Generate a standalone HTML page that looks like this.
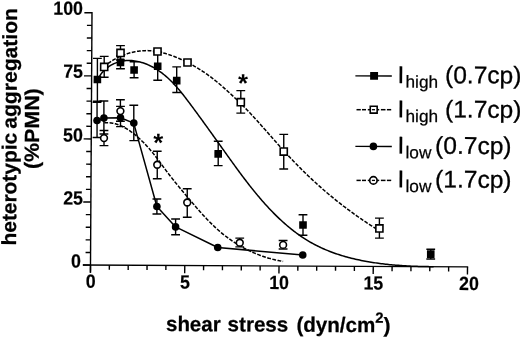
<!DOCTYPE html>
<html><head><meta charset="utf-8"><title>figure</title>
<style>html,body{margin:0;padding:0;background:#fff}svg{display:block}</style></head>
<body><svg width="520" height="338" viewBox="0 0 520 338">
<rect width="520" height="338" fill="#fff"/>
<line x1="90.45" y1="272.70" x2="92.00" y2="12.10" stroke="#000" stroke-width="1.4" />
<line x1="82.90" y1="265.06" x2="468.20" y2="266.90" stroke="#000" stroke-width="1.4" />
<line x1="90.50" y1="265.10" x2="90.45" y2="272.70" stroke="#000" stroke-width="1.4" />
<line x1="109.35" y1="265.19" x2="109.32" y2="269.79" stroke="#000" stroke-width="1.4" />
<line x1="128.20" y1="265.28" x2="128.17" y2="269.88" stroke="#000" stroke-width="1.4" />
<line x1="147.05" y1="265.37" x2="147.02" y2="269.97" stroke="#000" stroke-width="1.4" />
<line x1="165.90" y1="265.46" x2="165.87" y2="270.06" stroke="#000" stroke-width="1.4" />
<line x1="184.75" y1="265.55" x2="184.70" y2="273.15" stroke="#000" stroke-width="1.4" />
<line x1="203.60" y1="265.64" x2="203.57" y2="270.24" stroke="#000" stroke-width="1.4" />
<line x1="222.45" y1="265.73" x2="222.42" y2="270.33" stroke="#000" stroke-width="1.4" />
<line x1="241.30" y1="265.82" x2="241.27" y2="270.42" stroke="#000" stroke-width="1.4" />
<line x1="260.15" y1="265.91" x2="260.12" y2="270.51" stroke="#000" stroke-width="1.4" />
<line x1="279.00" y1="266.00" x2="278.95" y2="273.60" stroke="#000" stroke-width="1.4" />
<line x1="297.85" y1="266.09" x2="297.82" y2="270.69" stroke="#000" stroke-width="1.4" />
<line x1="316.70" y1="266.18" x2="316.67" y2="270.78" stroke="#000" stroke-width="1.4" />
<line x1="335.55" y1="266.27" x2="335.52" y2="270.87" stroke="#000" stroke-width="1.4" />
<line x1="354.40" y1="266.36" x2="354.37" y2="270.96" stroke="#000" stroke-width="1.4" />
<line x1="373.25" y1="266.45" x2="373.20" y2="274.05" stroke="#000" stroke-width="1.4" />
<line x1="392.10" y1="266.54" x2="392.07" y2="271.14" stroke="#000" stroke-width="1.4" />
<line x1="410.95" y1="266.63" x2="410.92" y2="271.23" stroke="#000" stroke-width="1.4" />
<line x1="429.80" y1="266.72" x2="429.77" y2="271.32" stroke="#000" stroke-width="1.4" />
<line x1="448.65" y1="266.81" x2="448.62" y2="271.41" stroke="#000" stroke-width="1.4" />
<line x1="467.50" y1="266.90" x2="467.45" y2="274.50" stroke="#000" stroke-width="1.4" />
<line x1="90.50" y1="265.10" x2="82.90" y2="265.06" stroke="#000" stroke-width="1.4" />
<line x1="90.58" y1="252.49" x2="85.58" y2="252.46" stroke="#000" stroke-width="1.4" />
<line x1="90.65" y1="239.87" x2="85.65" y2="239.85" stroke="#000" stroke-width="1.4" />
<line x1="90.72" y1="227.26" x2="85.73" y2="227.23" stroke="#000" stroke-width="1.4" />
<line x1="90.80" y1="214.64" x2="85.80" y2="214.62" stroke="#000" stroke-width="1.4" />
<line x1="90.88" y1="202.03" x2="83.28" y2="201.99" stroke="#000" stroke-width="1.4" />
<line x1="90.95" y1="189.41" x2="85.95" y2="189.39" stroke="#000" stroke-width="1.4" />
<line x1="91.03" y1="176.80" x2="86.03" y2="176.77" stroke="#000" stroke-width="1.4" />
<line x1="91.10" y1="164.18" x2="86.10" y2="164.16" stroke="#000" stroke-width="1.4" />
<line x1="91.17" y1="151.56" x2="86.18" y2="151.54" stroke="#000" stroke-width="1.4" />
<line x1="91.25" y1="138.95" x2="83.65" y2="138.91" stroke="#000" stroke-width="1.4" />
<line x1="91.33" y1="126.34" x2="86.33" y2="126.31" stroke="#000" stroke-width="1.4" />
<line x1="91.40" y1="113.72" x2="86.40" y2="113.70" stroke="#000" stroke-width="1.4" />
<line x1="91.47" y1="101.11" x2="86.48" y2="101.08" stroke="#000" stroke-width="1.4" />
<line x1="91.55" y1="88.49" x2="86.55" y2="88.47" stroke="#000" stroke-width="1.4" />
<line x1="91.62" y1="75.88" x2="84.03" y2="75.84" stroke="#000" stroke-width="1.4" />
<line x1="91.70" y1="63.26" x2="86.70" y2="63.24" stroke="#000" stroke-width="1.4" />
<line x1="91.78" y1="50.65" x2="86.78" y2="50.62" stroke="#000" stroke-width="1.4" />
<line x1="91.85" y1="38.03" x2="86.85" y2="38.01" stroke="#000" stroke-width="1.4" />
<line x1="91.92" y1="25.42" x2="86.93" y2="25.39" stroke="#000" stroke-width="1.4" />
<line x1="92.00" y1="12.80" x2="84.40" y2="12.76" stroke="#000" stroke-width="1.4" />
<line x1="97.40" y1="58.40" x2="97.40" y2="101.20" stroke="#000" stroke-width="1.4" />
<line x1="93.00" y1="58.38" x2="101.80" y2="58.42" stroke="#000" stroke-width="1.4" />
<line x1="93.00" y1="101.18" x2="101.80" y2="101.22" stroke="#000" stroke-width="1.4" />
<line x1="120.50" y1="55.80" x2="120.50" y2="68.80" stroke="#000" stroke-width="1.4" />
<line x1="116.10" y1="55.78" x2="124.90" y2="55.82" stroke="#000" stroke-width="1.4" />
<line x1="116.10" y1="68.78" x2="124.90" y2="68.82" stroke="#000" stroke-width="1.4" />
<line x1="134.10" y1="61.80" x2="134.10" y2="77.75" stroke="#000" stroke-width="1.4" />
<line x1="129.70" y1="61.78" x2="138.50" y2="61.82" stroke="#000" stroke-width="1.4" />
<line x1="129.70" y1="77.73" x2="138.50" y2="77.77" stroke="#000" stroke-width="1.4" />
<line x1="157.70" y1="52.30" x2="157.70" y2="80.25" stroke="#000" stroke-width="1.4" />
<line x1="153.30" y1="52.28" x2="162.10" y2="52.32" stroke="#000" stroke-width="1.4" />
<line x1="153.30" y1="80.23" x2="162.10" y2="80.27" stroke="#000" stroke-width="1.4" />
<line x1="176.70" y1="66.90" x2="176.70" y2="92.50" stroke="#000" stroke-width="1.4" />
<line x1="172.30" y1="66.88" x2="181.10" y2="66.92" stroke="#000" stroke-width="1.4" />
<line x1="172.30" y1="92.48" x2="181.10" y2="92.52" stroke="#000" stroke-width="1.4" />
<line x1="218.20" y1="141.25" x2="218.20" y2="165.60" stroke="#000" stroke-width="1.4" />
<line x1="213.80" y1="141.23" x2="222.60" y2="141.27" stroke="#000" stroke-width="1.4" />
<line x1="213.80" y1="165.58" x2="222.60" y2="165.62" stroke="#000" stroke-width="1.4" />
<line x1="303.00" y1="214.75" x2="303.00" y2="235.30" stroke="#000" stroke-width="1.4" />
<line x1="298.60" y1="214.73" x2="307.40" y2="214.77" stroke="#000" stroke-width="1.4" />
<line x1="298.60" y1="235.28" x2="307.40" y2="235.32" stroke="#000" stroke-width="1.4" />
<line x1="430.75" y1="249.20" x2="430.75" y2="259.00" stroke="#000" stroke-width="1.4" />
<line x1="426.35" y1="249.18" x2="435.15" y2="249.22" stroke="#000" stroke-width="1.4" />
<line x1="426.35" y1="258.98" x2="435.15" y2="259.02" stroke="#000" stroke-width="1.4" />
<line x1="104.20" y1="56.40" x2="104.20" y2="77.25" stroke="#000" stroke-width="1.4" />
<line x1="99.80" y1="56.38" x2="108.60" y2="56.42" stroke="#000" stroke-width="1.4" />
<line x1="99.80" y1="77.23" x2="108.60" y2="77.27" stroke="#000" stroke-width="1.4" />
<line x1="120.50" y1="45.60" x2="120.50" y2="60.00" stroke="#000" stroke-width="1.4" />
<line x1="116.10" y1="45.58" x2="124.90" y2="45.62" stroke="#000" stroke-width="1.4" />
<line x1="116.10" y1="59.98" x2="124.90" y2="60.02" stroke="#000" stroke-width="1.4" />
<line x1="240.80" y1="90.60" x2="240.80" y2="113.10" stroke="#000" stroke-width="1.4" />
<line x1="236.40" y1="90.58" x2="245.20" y2="90.62" stroke="#000" stroke-width="1.4" />
<line x1="236.40" y1="113.08" x2="245.20" y2="113.12" stroke="#000" stroke-width="1.4" />
<line x1="283.75" y1="134.40" x2="283.75" y2="169.00" stroke="#000" stroke-width="1.4" />
<line x1="279.35" y1="134.38" x2="288.15" y2="134.42" stroke="#000" stroke-width="1.4" />
<line x1="279.35" y1="168.98" x2="288.15" y2="169.02" stroke="#000" stroke-width="1.4" />
<line x1="379.40" y1="218.10" x2="379.40" y2="238.10" stroke="#000" stroke-width="1.4" />
<line x1="375.00" y1="218.08" x2="383.80" y2="218.12" stroke="#000" stroke-width="1.4" />
<line x1="375.00" y1="238.08" x2="383.80" y2="238.12" stroke="#000" stroke-width="1.4" />
<line x1="97.05" y1="102.30" x2="97.05" y2="137.50" stroke="#000" stroke-width="1.4" />
<line x1="92.65" y1="102.28" x2="101.45" y2="102.32" stroke="#000" stroke-width="1.4" />
<line x1="92.65" y1="137.48" x2="101.45" y2="137.52" stroke="#000" stroke-width="1.4" />
<line x1="103.90" y1="101.00" x2="103.90" y2="134.00" stroke="#000" stroke-width="1.4" />
<line x1="99.50" y1="100.98" x2="108.30" y2="101.02" stroke="#000" stroke-width="1.4" />
<line x1="99.50" y1="133.98" x2="108.30" y2="134.02" stroke="#000" stroke-width="1.4" />
<line x1="120.50" y1="106.40" x2="120.50" y2="126.60" stroke="#000" stroke-width="1.4" />
<line x1="116.10" y1="106.38" x2="124.90" y2="106.42" stroke="#000" stroke-width="1.4" />
<line x1="116.10" y1="126.58" x2="124.90" y2="126.62" stroke="#000" stroke-width="1.4" />
<line x1="133.80" y1="105.20" x2="133.80" y2="140.60" stroke="#000" stroke-width="1.4" />
<line x1="129.40" y1="105.18" x2="138.20" y2="105.22" stroke="#000" stroke-width="1.4" />
<line x1="129.40" y1="140.58" x2="138.20" y2="140.62" stroke="#000" stroke-width="1.4" />
<line x1="156.90" y1="199.00" x2="156.90" y2="214.00" stroke="#000" stroke-width="1.4" />
<line x1="152.50" y1="198.98" x2="161.30" y2="199.02" stroke="#000" stroke-width="1.4" />
<line x1="152.50" y1="213.98" x2="161.30" y2="214.02" stroke="#000" stroke-width="1.4" />
<line x1="175.60" y1="219.00" x2="175.60" y2="234.75" stroke="#000" stroke-width="1.4" />
<line x1="171.20" y1="218.98" x2="180.00" y2="219.02" stroke="#000" stroke-width="1.4" />
<line x1="171.20" y1="234.73" x2="180.00" y2="234.77" stroke="#000" stroke-width="1.4" />
<line x1="104.00" y1="130.50" x2="104.00" y2="145.60" stroke="#000" stroke-width="1.4" />
<line x1="99.60" y1="130.48" x2="108.40" y2="130.52" stroke="#000" stroke-width="1.4" />
<line x1="99.60" y1="145.58" x2="108.40" y2="145.62" stroke="#000" stroke-width="1.4" />
<line x1="120.40" y1="99.75" x2="120.40" y2="121.30" stroke="#000" stroke-width="1.4" />
<line x1="116.00" y1="99.73" x2="124.80" y2="99.77" stroke="#000" stroke-width="1.4" />
<line x1="116.00" y1="121.28" x2="124.80" y2="121.32" stroke="#000" stroke-width="1.4" />
<line x1="157.25" y1="151.25" x2="157.25" y2="178.75" stroke="#000" stroke-width="1.4" />
<line x1="152.85" y1="151.23" x2="161.65" y2="151.27" stroke="#000" stroke-width="1.4" />
<line x1="152.85" y1="178.73" x2="161.65" y2="178.77" stroke="#000" stroke-width="1.4" />
<line x1="187.25" y1="188.75" x2="187.25" y2="217.25" stroke="#000" stroke-width="1.4" />
<line x1="182.85" y1="188.73" x2="191.65" y2="188.77" stroke="#000" stroke-width="1.4" />
<line x1="182.85" y1="217.23" x2="191.65" y2="217.27" stroke="#000" stroke-width="1.4" />
<line x1="239.75" y1="238.10" x2="239.75" y2="246.90" stroke="#000" stroke-width="1.4" />
<line x1="235.35" y1="238.08" x2="244.15" y2="238.12" stroke="#000" stroke-width="1.4" />
<line x1="235.35" y1="246.88" x2="244.15" y2="246.92" stroke="#000" stroke-width="1.4" />
<line x1="283.10" y1="240.50" x2="283.10" y2="249.00" stroke="#000" stroke-width="1.4" />
<line x1="278.70" y1="240.48" x2="287.50" y2="240.52" stroke="#000" stroke-width="1.4" />
<line x1="278.70" y1="248.98" x2="287.50" y2="249.02" stroke="#000" stroke-width="1.4" />
<path d="M97.42 79.90 L98.14 78.48 L98.91 77.12 L99.74 75.81 L100.61 74.56 L101.52 73.35 L102.48 72.21 L103.48 71.11 L104.52 70.07 L105.60 69.09 L106.72 68.15 L107.86 67.27 L109.04 66.45 L110.25 65.68 L111.49 64.96 L112.74 64.29 L114.03 63.68 L115.33 63.12 L116.65 62.62 L117.99 62.17 L119.34 61.78 L120.70 61.44 L122.07 61.15 L123.45 60.91 L124.84 60.73 L126.23 60.61 L127.62 60.53 L129.01 60.51 L130.41 60.54 L131.80 60.61 L133.20 60.74 L134.59 60.91 L135.98 61.12 L137.36 61.38 L138.75 61.68 L140.12 62.03 L141.49 62.41 L142.85 62.83 L144.21 63.29 L145.55 63.78 L146.89 64.31 L148.21 64.88 L149.53 65.47 L150.83 66.10 L152.12 66.76 L153.39 67.44 L154.65 68.16 L155.89 68.90 L157.11 69.66 L158.32 70.45 L159.51 71.27 L160.68 72.10 L161.83 72.96 L162.97 73.83 L164.09 74.73 L165.20 75.65 L166.29 76.58 L167.37 77.54 L168.43 78.51 L169.48 79.49 L170.51 80.49 L171.54 81.51 L172.55 82.54 L173.55 83.58 L174.53 84.64 L175.51 85.71 L176.48 86.79 L177.43 87.88 L178.38 88.98 L179.32 90.09 L180.25 91.20 L181.17 92.33 L182.08 93.46 L182.99 94.59 L183.89 95.74 L184.78 96.88 L185.67 98.03 L186.55 99.18 L187.42 100.34 L188.30 101.49 L189.16 102.65 L190.03 103.81 L190.89 104.96 L191.75 106.12 L192.61 107.27 L193.46 108.42 L194.31 109.58 L195.16 110.73 L196.01 111.88 L196.85 113.02 L197.69 114.17 L198.53 115.32 L199.37 116.47 L200.21 117.61 L201.04 118.76 L201.87 119.91 L202.71 121.05 L203.54 122.20 L204.36 123.34 L205.19 124.49 L206.02 125.63 L206.84 126.78 L207.67 127.92 L208.49 129.07 L209.32 130.21 L210.14 131.36 L210.96 132.50 L211.78 133.65 L212.60 134.80 L213.42 135.94 L214.25 137.09 L215.07 138.24 L215.89 139.39 L216.71 140.54 L217.53 141.69 L218.35 142.84 L219.18 143.99 L220.00 145.14 L220.82 146.30 L221.65 147.45 L222.47 148.61 L223.30 149.77 L224.13 150.93 L224.96 152.09 L225.79 153.25 L226.62 154.41 L227.45 155.58 L228.29 156.75 L229.13 157.91 L229.96 159.08 L230.80 160.25 L231.65 161.42 L232.49 162.59 L233.34 163.76 L234.18 164.93 L235.03 166.10 L235.89 167.27 L236.74 168.44 L237.60 169.61 L238.46 170.78 L239.32 171.95 L240.18 173.11 L241.05 174.28 L241.92 175.44 L242.79 176.61 L243.67 177.77 L244.55 178.93 L245.43 180.08 L246.31 181.24 L247.20 182.39 L248.09 183.54 L248.99 184.69 L249.88 185.84 L250.78 186.98 L251.69 188.12 L252.60 189.25 L253.51 190.39 L254.42 191.51 L255.34 192.64 L256.27 193.76 L257.19 194.88 L258.12 195.99 L259.06 197.10 L260.00 198.20 L260.94 199.30 L261.89 200.40 L262.84 201.49 L263.80 202.57 L264.76 203.65 L265.73 204.72 L266.70 205.79 L267.67 206.85 L268.65 207.91 L269.64 208.96 L270.63 210.00 L271.62 211.04 L272.62 212.07 L273.63 213.10 L274.64 214.11 L275.65 215.12 L276.67 216.13 L277.70 217.12 L278.73 218.11 L279.77 219.09 L280.81 220.06 L281.86 221.02 L282.91 221.98 L283.97 222.93 L285.04 223.87 L286.11 224.80 L287.19 225.72 L288.28 226.63 L289.37 227.53 L290.46 228.43 L291.57 229.31 L292.68 230.19 L293.79 231.05 L294.92 231.91 L296.05 232.75 L297.18 233.58 L298.33 234.41 L299.48 235.22 L300.63 236.02 L301.80 236.82 L302.97 237.60 L304.15 238.37 L305.33 239.12 L306.53 239.87 L307.73 240.60 L308.93 241.33 L310.15 242.04 L311.37 242.74 L312.60 243.42 L313.84 244.09 L315.09 244.76 L316.34 245.40 L317.60 246.04 L318.87 246.66 L320.15 247.27 L321.43 247.87 L322.72 248.45 L324.02 249.03 L325.32 249.59 L326.63 250.14 L327.95 250.68 L329.28 251.20 L330.60 251.72 L331.94 252.22 L333.28 252.72 L334.63 253.20 L335.98 253.67 L337.34 254.13 L338.70 254.58 L340.07 255.01 L341.44 255.44 L342.82 255.86 L344.20 256.27 L345.59 256.66 L346.98 257.05 L348.38 257.43 L349.78 257.79 L351.18 258.15 L352.59 258.50 L353.99 258.84 L355.41 259.17 L356.82 259.49 L358.24 259.80 L359.67 260.10 L361.09 260.40 L362.52 260.68 L363.95 260.96 L365.38 261.23 L366.81 261.49 L368.25 261.74 L369.68 261.99 L371.12 262.22 L372.56 262.45 L374.01 262.67 L375.45 262.88 L376.89 263.09 L378.34 263.29 L379.78 263.48 L381.23 263.66 L382.67 263.84 L384.12 264.01 L385.56 264.18 L387.01 264.33 L388.46 264.48 L389.90 264.63 L391.35 264.77 L392.79 264.90 L394.23 265.03 L395.67 265.15 L397.11 265.26 L398.55 265.37 L399.99 265.48 L401.43 265.57 L402.86 265.67 L404.29 265.76 L405.72 265.84 L407.15 265.92 L408.57 265.99 L409.99 266.06 L411.41 266.13 L412.83 266.19 L414.24 266.25 L415.65 266.30 L417.06 266.35 L418.46 266.39 L419.86 266.43 L421.25 266.47 L422.65 266.50 L424.03 266.53 L425.41 266.56 L426.79 266.59 L428.16 266.61 L429.53 266.63 L430.90 266.64 L432.25 266.65 L433.61 266.67" fill="none" stroke="#000" stroke-width="1.5" stroke-linejoin="round"/>
<path d="M103.84 66.90 L104.74 66.13 L105.65 65.38 L106.57 64.64 L107.51 63.92 L108.46 63.22 L109.42 62.54 L110.39 61.87 L111.37 61.22 L112.36 60.59 L113.36 59.98 L114.37 59.39 L115.40 58.81 L116.43 58.25 L117.47 57.71 L118.52 57.19 L119.57 56.69 L120.64 56.21 L121.71 55.75 L122.79 55.31 L123.87 54.88 L124.96 54.48 L126.06 54.09 L127.17 53.72 L128.27 53.38 L129.39 53.05 L130.51 52.75 L131.63 52.46 L132.76 52.19 L133.89 51.95 L135.02 51.72 L136.15 51.52 L137.29 51.33 L138.43 51.17 L139.58 51.03 L140.72 50.91 L141.86 50.81 L143.01 50.73 L144.15 50.67 L145.30 50.63 L146.45 50.62 L147.59 50.62 L148.73 50.65 L149.88 50.70 L151.02 50.77 L152.15 50.87 L153.29 50.98 L154.42 51.12 L155.55 51.28 L156.68 51.46 L157.80 51.66 L158.93 51.88 L160.04 52.12 L161.16 52.38 L162.27 52.65 L163.38 52.94 L164.49 53.24 L165.59 53.56 L166.69 53.89 L167.79 54.24 L168.88 54.59 L169.97 54.96 L171.06 55.34 L172.15 55.73 L173.23 56.13 L174.30 56.54 L175.38 56.96 L176.45 57.39 L177.52 57.83 L178.58 58.27 L179.64 58.73 L180.70 59.19 L181.75 59.66 L182.80 60.15 L183.85 60.64 L184.89 61.14 L185.93 61.65 L186.97 62.16 L188.00 62.69 L189.03 63.23 L190.05 63.77 L191.07 64.32 L192.09 64.88 L193.10 65.45 L194.11 66.03 L195.12 66.61 L196.12 67.21 L197.12 67.81 L198.11 68.41 L199.10 69.03 L200.08 69.65 L201.07 70.28 L202.04 70.92 L203.02 71.57 L203.98 72.22 L204.95 72.88 L205.91 73.54 L206.87 74.22 L207.82 74.90 L208.76 75.58 L209.71 76.27 L210.65 76.97 L211.58 77.67 L212.51 78.38 L213.44 79.10 L214.36 79.82 L215.27 80.55 L216.19 81.28 L217.09 82.02 L218.00 82.77 L218.89 83.51 L219.79 84.27 L220.68 85.02 L221.57 85.78 L222.45 86.55 L223.33 87.31 L224.20 88.08 L225.07 88.86 L225.94 89.63 L226.80 90.41 L227.66 91.19 L228.51 91.97 L229.37 92.75 L230.21 93.53 L231.06 94.31 L231.90 95.10 L232.74 95.88 L233.58 96.66 L234.41 97.45 L235.24 98.24 L236.07 99.02 L236.89 99.81 L237.71 100.60 L238.53 101.39 L239.34 102.19 L240.16 102.99 L240.97 103.78 L241.78 104.59 L242.58 105.39 L243.39 106.20 L244.19 107.01 L244.99 107.82 L245.78 108.64 L246.58 109.46 L247.37 110.28 L248.16 111.11 L248.95 111.94 L249.74 112.77 L250.53 113.61 L251.31 114.44 L252.09 115.28 L252.88 116.13 L253.66 116.97 L254.44 117.82 L255.21 118.67 L255.99 119.52 L256.76 120.37 L257.54 121.23 L258.31 122.08 L259.09 122.94 L259.86 123.80 L260.63 124.67 L261.40 125.53 L262.17 126.39 L262.94 127.26 L263.71 128.13 L264.47 128.99 L265.24 129.86 L266.01 130.73 L266.78 131.60 L267.55 132.47 L268.31 133.35 L269.08 134.22 L269.85 135.09 L270.62 135.96 L271.38 136.83 L272.15 137.71 L272.92 138.58 L273.69 139.45 L274.46 140.32 L275.23 141.20 L276.00 142.07 L276.77 142.94 L277.55 143.81 L278.32 144.68 L279.09 145.55 L279.87 146.41 L280.65 147.28 L281.42 148.15 L282.20 149.01 L282.98 149.87 L283.77 150.74 L284.55 151.60 L285.33 152.46 L286.12 153.31 L286.91 154.17 L287.70 155.02 L288.49 155.87 L289.28 156.72 L290.08 157.57 L290.87 158.41 L291.67 159.26 L292.47 160.10 L293.28 160.94 L294.08 161.77 L294.89 162.61 L295.70 163.44 L296.51 164.27 L297.32 165.10 L298.13 165.92 L298.95 166.75 L299.76 167.57 L300.58 168.39 L301.41 169.21 L302.23 170.02 L303.05 170.84 L303.88 171.65 L304.71 172.46 L305.54 173.26 L306.37 174.07 L307.21 174.87 L308.04 175.67 L308.88 176.47 L309.72 177.26 L310.56 178.06 L311.41 178.85 L312.25 179.64 L313.10 180.43 L313.95 181.21 L314.80 181.99 L315.66 182.77 L316.51 183.55 L317.37 184.33 L318.23 185.10 L319.09 185.87 L319.95 186.64 L320.82 187.40 L321.69 188.17 L322.56 188.93 L323.43 189.69 L324.30 190.45 L325.18 191.20 L326.05 191.95 L326.93 192.70 L327.81 193.45 L328.70 194.20 L329.58 194.94 L330.47 195.68 L331.36 196.42 L332.25 197.15 L333.14 197.89 L334.03 198.62 L334.93 199.34 L335.83 200.07 L336.73 200.79 L337.63 201.52 L338.54 202.23 L339.44 202.95 L340.35 203.66 L341.26 204.37 L342.18 205.08 L343.09 205.79 L344.01 206.49 L344.93 207.19 L345.85 207.89 L346.77 208.59 L347.69 209.28 L348.62 209.97 L349.55 210.66 L350.48 211.35 L351.41 212.03 L352.35 212.71 L353.28 213.39 L354.22 214.07 L355.16 214.74 L356.11 215.41 L357.05 216.08 L358.00 216.75 L358.95 217.41 L359.90 218.07 L360.85 218.73 L361.81 219.38 L362.76 220.04 L363.72 220.69 L364.69 221.33 L365.65 221.98 L366.61 222.62 L367.58 223.26 L368.55 223.90 L369.52 224.53 L370.50 225.16 L371.47 225.79 L372.45 226.41 L373.43 227.04 L374.41 227.66 L375.40 228.28 L376.38 228.89 L377.37 229.50 L378.36 230.11 L379.35 230.72" fill="none" stroke="#000" stroke-width="1.5" stroke-linejoin="round" stroke-dasharray="3.8 1.5"/>
<path d="M104.30 122.79 L105.12 122.74 L105.94 122.71 L106.76 122.70 L107.56 122.70 L108.36 122.73 L109.16 122.78 L109.95 122.85 L110.73 122.94 L111.51 123.04 L112.28 123.17 L113.05 123.31 L113.81 123.46 L114.57 123.64 L115.32 123.83 L116.07 124.03 L116.81 124.25 L117.54 124.49 L118.27 124.74 L118.99 125.01 L119.71 125.29 L120.43 125.58 L121.14 125.89 L121.84 126.20 L122.54 126.54 L123.23 126.88 L123.92 127.23 L124.60 127.60 L125.28 127.98 L125.96 128.36 L126.62 128.76 L127.29 129.17 L127.95 129.58 L128.60 130.01 L129.25 130.44 L129.90 130.88 L130.54 131.33 L131.17 131.78 L131.81 132.25 L132.43 132.71 L133.06 133.19 L133.67 133.67 L134.29 134.16 L134.90 134.65 L135.50 135.15 L136.10 135.65 L136.70 136.16 L137.29 136.67 L137.88 137.19 L138.47 137.71 L139.05 138.24 L139.62 138.77 L140.19 139.30 L140.76 139.84 L141.33 140.38 L141.89 140.93 L142.45 141.48 L143.00 142.03 L143.55 142.58 L144.10 143.14 L144.64 143.70 L145.18 144.27 L145.72 144.84 L146.25 145.40 L146.78 145.98 L147.30 146.55 L147.83 147.13 L148.35 147.70 L148.86 148.29 L149.38 148.87 L149.89 149.46 L150.39 150.04 L150.90 150.64 L151.40 151.23 L151.90 151.83 L152.39 152.42 L152.88 153.03 L153.37 153.63 L153.86 154.24 L154.35 154.85 L154.83 155.46 L155.31 156.07 L155.78 156.69 L156.26 157.30 L156.73 157.92 L157.20 158.55 L157.67 159.17 L158.14 159.80 L158.60 160.42 L159.07 161.05 L159.53 161.68 L160.00 162.31 L160.46 162.94 L160.92 163.57 L161.38 164.20 L161.85 164.83 L162.31 165.46 L162.77 166.09 L163.23 166.72 L163.69 167.35 L164.16 167.98 L164.62 168.61 L165.09 169.24 L165.55 169.86 L166.02 170.49 L166.49 171.11 L166.96 171.74 L167.43 172.36 L167.91 172.98 L168.38 173.60 L168.86 174.22 L169.33 174.83 L169.81 175.45 L170.29 176.06 L170.77 176.68 L171.25 177.29 L171.73 177.90 L172.21 178.52 L172.70 179.13 L173.18 179.74 L173.67 180.34 L174.16 180.95 L174.64 181.56 L175.13 182.17 L175.62 182.77 L176.11 183.38 L176.60 183.98 L177.10 184.58 L177.59 185.19 L178.08 185.79 L178.58 186.39 L179.07 186.99 L179.57 187.59 L180.07 188.19 L180.56 188.79 L181.06 189.39 L181.56 189.99 L182.06 190.59 L182.56 191.19 L183.06 191.79 L183.56 192.39 L184.06 192.98 L184.56 193.58 L185.06 194.18 L185.57 194.78 L186.07 195.37 L186.57 195.97 L187.08 196.57 L187.58 197.16 L188.08 197.76 L188.59 198.36 L189.09 198.95 L189.60 199.55 L190.10 200.15 L190.61 200.74 L191.11 201.34 L191.62 201.93 L192.13 202.53 L192.64 203.13 L193.14 203.72 L193.65 204.32 L194.16 204.91 L194.67 205.51 L195.18 206.10 L195.69 206.69 L196.21 207.28 L196.72 207.87 L197.23 208.47 L197.75 209.06 L198.26 209.64 L198.78 210.23 L199.30 210.82 L199.82 211.40 L200.34 211.99 L200.86 212.57 L201.38 213.15 L201.91 213.74 L202.43 214.32 L202.96 214.89 L203.49 215.47 L204.02 216.05 L204.55 216.62 L205.08 217.19 L205.62 217.76 L206.15 218.33 L206.69 218.90 L207.23 219.46 L207.77 220.02 L208.32 220.59 L208.86 221.15 L209.41 221.70 L209.96 222.26 L210.51 222.81 L211.06 223.36 L211.62 223.91 L212.18 224.45 L212.74 225.00 L213.30 225.54 L213.86 226.08 L214.43 226.61 L215.00 227.15 L215.57 227.68 L216.14 228.20 L216.72 228.73 L217.30 229.25 L217.88 229.77 L218.47 230.29 L219.05 230.80 L219.64 231.31 L220.23 231.82 L220.83 232.32 L221.43 232.82 L222.03 233.32 L222.63 233.81 L223.24 234.31 L223.85 234.79 L224.46 235.28 L225.08 235.76 L225.70 236.23 L226.32 236.71 L226.94 237.18 L227.57 237.64 L228.20 238.11 L228.83 238.57 L229.47 239.02 L230.11 239.47 L230.75 239.92 L231.39 240.37 L232.04 240.81 L232.69 241.25 L233.34 241.68 L233.99 242.11 L234.65 242.54 L235.31 242.96 L235.97 243.38 L236.63 243.79 L237.30 244.20 L237.96 244.61 L238.64 245.01 L239.31 245.41 L239.98 245.81 L240.66 246.20 L241.34 246.59 L242.02 246.97 L242.71 247.35 L243.40 247.73 L244.08 248.10 L244.78 248.46 L245.47 248.83 L246.16 249.19 L246.86 249.54 L247.56 249.89 L248.26 250.24 L248.97 250.58 L249.67 250.92 L250.38 251.25 L251.09 251.58 L251.80 251.91 L252.52 252.23 L253.23 252.55 L253.95 252.86 L254.67 253.17 L255.39 253.47 L256.11 253.77 L256.83 254.06 L257.56 254.35 L258.29 254.64 L259.02 254.92 L259.75 255.20 L260.48 255.47 L261.22 255.74 L261.95 256.00 L262.69 256.26 L263.43 256.51 L264.17 256.76 L264.91 257.01 L265.65 257.25 L266.40 257.48 L267.15 257.71 L267.89 257.94 L268.64 258.16 L269.39 258.37 L270.15 258.58 L270.90 258.79 L271.65 258.99 L272.41 259.19 L273.17 259.38 L273.92 259.57 L274.68 259.75 L275.44 259.93 L276.21 260.10 L276.97 260.26 L277.73 260.43 L278.50 260.58 L279.26 260.73 L280.03 260.88 L280.80 261.02 L281.57 261.16 L282.34 261.29 L283.11 261.42" fill="none" stroke="#000" stroke-width="1.5" stroke-linejoin="round" stroke-dasharray="3.8 1.5"/>
<path d="M97.05 120.50 L103.90 118.10 L120.50 117.70 L133.70 123.10 L156.90 206.50 L175.60 226.90 L217.75 247.50 L302.75 255.00" fill="none" stroke="#000" stroke-width="1.5" stroke-linejoin="round"/>
<rect x="93.60" y="75.70" width="7.6" height="7.6" fill="#000" transform="rotate(0.31 97.40 79.50)"/>
<rect x="116.70" y="58.60" width="7.6" height="7.6" fill="#000" transform="rotate(0.31 120.50 62.40)"/>
<rect x="130.30" y="66.20" width="7.6" height="7.6" fill="#000" transform="rotate(0.31 134.10 70.00)"/>
<rect x="153.90" y="62.45" width="7.6" height="7.6" fill="#000" transform="rotate(0.31 157.70 66.25)"/>
<rect x="172.90" y="76.80" width="7.6" height="7.6" fill="#000" transform="rotate(0.31 176.70 80.60)"/>
<rect x="214.40" y="150.10" width="7.6" height="7.6" fill="#000" transform="rotate(0.31 218.20 153.90)"/>
<rect x="299.20" y="221.20" width="7.6" height="7.6" fill="#000" transform="rotate(0.31 303.00 225.00)"/>
<rect x="426.95" y="250.30" width="7.6" height="7.6" fill="#000" transform="rotate(0.31 430.75 254.10)"/>
<circle cx="97.05" cy="120.50" r="3.8" fill="#000"/>
<circle cx="103.90" cy="118.10" r="3.8" fill="#000"/>
<circle cx="120.50" cy="117.70" r="3.8" fill="#000"/>
<circle cx="133.80" cy="123.10" r="3.8" fill="#000"/>
<circle cx="156.90" cy="206.50" r="3.8" fill="#000"/>
<circle cx="175.60" cy="226.90" r="3.8" fill="#000"/>
<circle cx="217.75" cy="247.50" r="3.8" fill="#000"/>
<circle cx="302.75" cy="255.00" r="3.8" fill="#000"/>
<rect x="100.65" y="63.35" width="7.1" height="7.1" fill="#fff" stroke="#000" stroke-width="1.6" transform="rotate(0.31 104.20 66.90)"/>
<rect x="116.95" y="49.35" width="7.1" height="7.1" fill="#fff" stroke="#000" stroke-width="1.6" transform="rotate(0.31 120.50 52.90)"/>
<rect x="153.95" y="47.95" width="7.1" height="7.1" fill="#fff" stroke="#000" stroke-width="1.6" transform="rotate(0.31 157.50 51.50)"/>
<rect x="183.95" y="58.95" width="7.1" height="7.1" fill="#fff" stroke="#000" stroke-width="1.6" transform="rotate(0.31 187.50 62.50)"/>
<rect x="237.25" y="98.65" width="7.1" height="7.1" fill="#fff" stroke="#000" stroke-width="1.6" transform="rotate(0.31 240.80 102.20)"/>
<rect x="280.20" y="148.05" width="7.1" height="7.1" fill="#fff" stroke="#000" stroke-width="1.6" transform="rotate(0.31 283.75 151.60)"/>
<rect x="375.85" y="224.85" width="7.1" height="7.1" fill="#fff" stroke="#000" stroke-width="1.6" transform="rotate(0.31 379.40 228.40)"/>
<circle cx="104.00" cy="138.10" r="3.4" fill="#fff" stroke="#000" stroke-width="1.6"/>
<circle cx="120.40" cy="111.10" r="3.4" fill="#fff" stroke="#000" stroke-width="1.6"/>
<circle cx="157.25" cy="164.75" r="3.4" fill="#fff" stroke="#000" stroke-width="1.6"/>
<circle cx="187.25" cy="202.50" r="3.4" fill="#fff" stroke="#000" stroke-width="1.6"/>
<circle cx="239.75" cy="242.75" r="3.4" fill="#fff" stroke="#000" stroke-width="1.6"/>
<circle cx="283.10" cy="244.90" r="3.4" fill="#fff" stroke="#000" stroke-width="1.6"/>
<text x="0" y="0" font-size="19.1" font-family="Liberation Sans, Arial, Helvetica, sans-serif" font-weight="700" text-anchor="end" stroke="#000" stroke-width="0.2" stroke-linejoin="round" transform="translate(83.00 14.90) rotate(0.31) scale(0.93 1)" >100</text>
<text x="0" y="0" font-size="19.1" font-family="Liberation Sans, Arial, Helvetica, sans-serif" font-weight="700" text-anchor="end" stroke="#000" stroke-width="0.2" stroke-linejoin="round" transform="translate(83.00 77.90) rotate(0.31) scale(0.93 1)" >75</text>
<text x="0" y="0" font-size="19.1" font-family="Liberation Sans, Arial, Helvetica, sans-serif" font-weight="700" text-anchor="end" stroke="#000" stroke-width="0.2" stroke-linejoin="round" transform="translate(82.80 141.50) rotate(0.31) scale(0.93 1)" >50</text>
<text x="0" y="0" font-size="19.1" font-family="Liberation Sans, Arial, Helvetica, sans-serif" font-weight="700" text-anchor="end" stroke="#000" stroke-width="0.2" stroke-linejoin="round" transform="translate(83.00 204.60) rotate(0.31) scale(0.93 1)" >25</text>
<text x="0" y="0" font-size="19.1" font-family="Liberation Sans, Arial, Helvetica, sans-serif" font-weight="700" text-anchor="end" stroke="#000" stroke-width="0.2" stroke-linejoin="round" transform="translate(81.00 267.50) rotate(0.31) scale(0.93 1)" >0</text>
<text x="0" y="0" font-size="19.1" font-family="Liberation Sans, Arial, Helvetica, sans-serif" font-weight="700" text-anchor="middle" stroke="#000" stroke-width="0.2" stroke-linejoin="round" transform="translate(90.70 287.90) rotate(0.31) scale(0.93 1)" >0</text>
<text x="0" y="0" font-size="19.1" font-family="Liberation Sans, Arial, Helvetica, sans-serif" font-weight="700" text-anchor="middle" stroke="#000" stroke-width="0.2" stroke-linejoin="round" transform="translate(185.00 288.42) rotate(0.31) scale(0.93 1)" >5</text>
<text x="0" y="0" font-size="19.1" font-family="Liberation Sans, Arial, Helvetica, sans-serif" font-weight="700" text-anchor="middle" stroke="#000" stroke-width="0.2" stroke-linejoin="round" transform="translate(279.10 288.94) rotate(0.31) scale(0.93 1)" >10</text>
<text x="0" y="0" font-size="19.1" font-family="Liberation Sans, Arial, Helvetica, sans-serif" font-weight="700" text-anchor="middle" stroke="#000" stroke-width="0.2" stroke-linejoin="round" transform="translate(373.30 289.46) rotate(0.31) scale(0.93 1)" >15</text>
<text x="0" y="0" font-size="19.1" font-family="Liberation Sans, Arial, Helvetica, sans-serif" font-weight="700" text-anchor="middle" stroke="#000" stroke-width="0.2" stroke-linejoin="round" transform="translate(468.90 289.98) rotate(0.31) scale(0.93 1)" >20</text>
<text x="0" y="0" font-size="21" font-family="Liberation Sans, Arial, Helvetica, sans-serif" font-weight="700" text-anchor="start" textLength="54.60" lengthAdjust="spacingAndGlyphs" stroke="#000" stroke-width="0.25" stroke-linejoin="round" transform="translate(166.00 331.00) rotate(0.31) scale(1.0 1)" >shear</text>
<text x="0" y="0" font-size="21" font-family="Liberation Sans, Arial, Helvetica, sans-serif" font-weight="700" text-anchor="start" textLength="60.60" lengthAdjust="spacingAndGlyphs" stroke="#000" stroke-width="0.25" stroke-linejoin="round" transform="translate(227.60 331.35) rotate(0.31) scale(1.0 1)" >stress</text>
<text x="0" y="0" font-size="21" font-family="Liberation Sans, Arial, Helvetica, sans-serif" font-weight="700" text-anchor="start" textLength="78.90" lengthAdjust="spacingAndGlyphs" stroke="#000" stroke-width="0.25" stroke-linejoin="round" transform="translate(296.40 331.75) rotate(0.31) scale(1.0 1)" >(dyn/cm</text>
<text x="0" y="0" font-size="14.8" font-family="Liberation Sans, Arial, Helvetica, sans-serif" font-weight="700" text-anchor="start" stroke="#000" stroke-width="0.25" stroke-linejoin="round" transform="translate(375.20 322.80) rotate(0.31) scale(1.0 1)" >2</text>
<text x="0" y="0" font-size="21" font-family="Liberation Sans, Arial, Helvetica, sans-serif" font-weight="700" text-anchor="start" stroke="#000" stroke-width="0.25" stroke-linejoin="round" transform="translate(383.40 332.30) rotate(0.31) scale(1.0 1)" >)</text>
<text x="0" y="0" font-size="20.5" font-family="Liberation Sans, Arial, Helvetica, sans-serif" font-weight="700" textLength="112.60" lengthAdjust="spacingAndGlyphs" stroke="#000" stroke-width="0.25" stroke-linejoin="round" transform="translate(16.00 245.50) rotate(-89.69)">heterotypic</text>
<text x="0" y="0" font-size="20.5" font-family="Liberation Sans, Arial, Helvetica, sans-serif" font-weight="700" textLength="120.80" lengthAdjust="spacingAndGlyphs" stroke="#000" stroke-width="0.25" stroke-linejoin="round" transform="translate(16.50 128.80) rotate(-89.69)">aggregation</text>
<text x="0" y="0" font-size="20.5" font-family="Liberation Sans, Arial, Helvetica, sans-serif" font-weight="700" textLength="80.80" lengthAdjust="spacingAndGlyphs" stroke="#000" stroke-width="0.25" stroke-linejoin="round" transform="translate(38.80 169.10) rotate(-89.69)">(%PMN)</text>
<text x="0" y="0" font-size="25.5" font-family="Liberation Sans, Arial, Helvetica, sans-serif" font-weight="700" text-anchor="middle" transform="translate(243.00 91.80) rotate(0.31) scale(1.0 1)" >*</text>
<text x="0" y="0" font-size="25.5" font-family="Liberation Sans, Arial, Helvetica, sans-serif" font-weight="700" text-anchor="middle" transform="translate(158.20 151.40) rotate(0.31) scale(1.0 1)" >*</text>
<line x1="355.40" y1="75.80" x2="391.80" y2="76.00" stroke="#000" stroke-width="1.3" />
<rect x="370.15" y="71.95" width="7.9" height="7.9" fill="#000" transform="rotate(0.31 374.10 75.90)"/>
<text x="0" y="0" font-size="24.2" font-family="Liberation Sans, Arial, Helvetica, sans-serif" text-anchor="start" stroke="#000" stroke-width="0.3" stroke-linejoin="round" transform="translate(397.40 82.90) rotate(0.31) scale(1.0 1)" >I</text>
<text x="0" y="0" font-size="17.2" font-family="Liberation Sans, Arial, Helvetica, sans-serif" text-anchor="start" stroke="#000" stroke-width="0.25" stroke-linejoin="round" transform="translate(405.50 87.60) rotate(0.31) scale(1.0 1)" >high</text>
<text x="0" y="0" font-size="24.2" font-family="Liberation Sans, Arial, Helvetica, sans-serif" text-anchor="start" textLength="76.40" lengthAdjust="spacingAndGlyphs" stroke="#000" stroke-width="0.3" stroke-linejoin="round" transform="translate(445.00 83.10) rotate(0.31) scale(1.0 1)" >(0.7cp)</text>
<line x1="356.50" y1="109.70" x2="360.80" y2="109.70" stroke="#000" stroke-width="1.5" />
<line x1="362.00" y1="109.70" x2="366.00" y2="109.70" stroke="#000" stroke-width="1.5" />
<line x1="367.80" y1="109.70" x2="370.00" y2="109.70" stroke="#000" stroke-width="1.5" />
<line x1="377.00" y1="109.70" x2="379.20" y2="109.70" stroke="#000" stroke-width="1.5" />
<line x1="380.90" y1="109.70" x2="385.50" y2="109.70" stroke="#000" stroke-width="1.5" />
<line x1="386.90" y1="109.70" x2="391.20" y2="109.70" stroke="#000" stroke-width="1.5" />
<rect x="370.25" y="106.25" width="6.9" height="6.9" fill="#fff" stroke="#000" stroke-width="1.6" transform="rotate(0.31 373.70 109.70)"/>
<line x1="371.90" y1="109.70" x2="375.00" y2="109.70" stroke="#000" stroke-width="1.3" />
<text x="0" y="0" font-size="24.2" font-family="Liberation Sans, Arial, Helvetica, sans-serif" text-anchor="start" stroke="#000" stroke-width="0.3" stroke-linejoin="round" transform="translate(397.40 117.20) rotate(0.31) scale(1.0 1)" >I</text>
<text x="0" y="0" font-size="17.2" font-family="Liberation Sans, Arial, Helvetica, sans-serif" text-anchor="start" stroke="#000" stroke-width="0.25" stroke-linejoin="round" transform="translate(405.50 121.90) rotate(0.31) scale(1.0 1)" >high</text>
<text x="0" y="0" font-size="24.2" font-family="Liberation Sans, Arial, Helvetica, sans-serif" text-anchor="start" textLength="76.40" lengthAdjust="spacingAndGlyphs" stroke="#000" stroke-width="0.3" stroke-linejoin="round" transform="translate(445.00 117.40) rotate(0.31) scale(1.0 1)" >(1.7cp)</text>
<line x1="355.40" y1="146.30" x2="391.80" y2="146.50" stroke="#000" stroke-width="1.3" />
<circle cx="373.40" cy="146.40" r="3.8" fill="#000"/>
<text x="0" y="0" font-size="24.2" font-family="Liberation Sans, Arial, Helvetica, sans-serif" text-anchor="start" stroke="#000" stroke-width="0.3" stroke-linejoin="round" transform="translate(397.40 153.50) rotate(0.31) scale(1.0 1)" >I</text>
<text x="0" y="0" font-size="17.2" font-family="Liberation Sans, Arial, Helvetica, sans-serif" text-anchor="start" stroke="#000" stroke-width="0.25" stroke-linejoin="round" transform="translate(405.50 158.20) rotate(0.31) scale(1.0 1)" >low</text>
<text x="0" y="0" font-size="24.2" font-family="Liberation Sans, Arial, Helvetica, sans-serif" text-anchor="start" textLength="76.40" lengthAdjust="spacingAndGlyphs" stroke="#000" stroke-width="0.3" stroke-linejoin="round" transform="translate(435.10 153.70) rotate(0.31) scale(1.0 1)" >(0.7cp)</text>
<line x1="356.50" y1="180.40" x2="360.80" y2="180.40" stroke="#000" stroke-width="1.5" />
<line x1="362.00" y1="180.40" x2="366.00" y2="180.40" stroke="#000" stroke-width="1.5" />
<line x1="367.80" y1="180.40" x2="370.00" y2="180.40" stroke="#000" stroke-width="1.5" />
<line x1="377.00" y1="180.40" x2="379.20" y2="180.40" stroke="#000" stroke-width="1.5" />
<line x1="380.90" y1="180.40" x2="385.50" y2="180.40" stroke="#000" stroke-width="1.5" />
<line x1="386.90" y1="180.40" x2="391.20" y2="180.40" stroke="#000" stroke-width="1.5" />
<circle cx="373.40" cy="180.40" r="3.7" fill="#fff" stroke="#000" stroke-width="1.7"/>
<line x1="371.90" y1="180.40" x2="375.00" y2="180.40" stroke="#000" stroke-width="1.3" />
<text x="0" y="0" font-size="24.2" font-family="Liberation Sans, Arial, Helvetica, sans-serif" text-anchor="start" stroke="#000" stroke-width="0.3" stroke-linejoin="round" transform="translate(397.40 187.20) rotate(0.31) scale(1.0 1)" >I</text>
<text x="0" y="0" font-size="17.2" font-family="Liberation Sans, Arial, Helvetica, sans-serif" text-anchor="start" stroke="#000" stroke-width="0.25" stroke-linejoin="round" transform="translate(405.50 191.90) rotate(0.31) scale(1.0 1)" >low</text>
<text x="0" y="0" font-size="24.2" font-family="Liberation Sans, Arial, Helvetica, sans-serif" text-anchor="start" textLength="76.40" lengthAdjust="spacingAndGlyphs" stroke="#000" stroke-width="0.3" stroke-linejoin="round" transform="translate(435.10 187.40) rotate(0.31) scale(1.0 1)" >(1.7cp)</text>
</svg></body></html>
